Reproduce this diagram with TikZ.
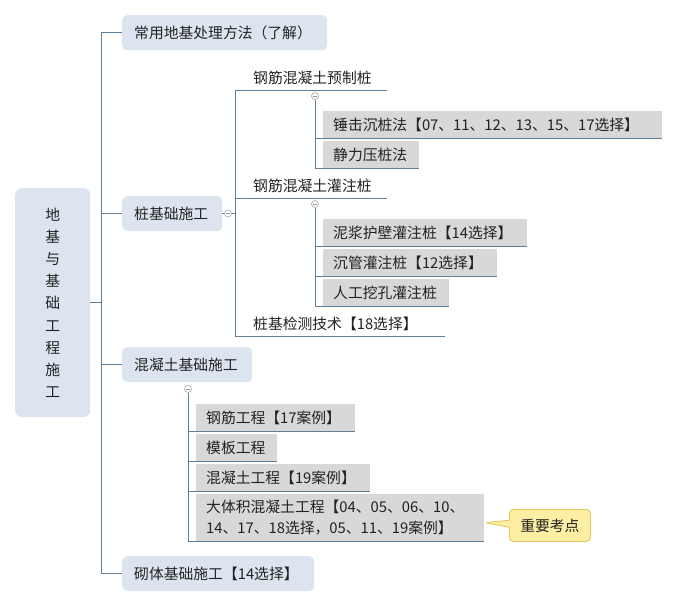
\documentclass[tikz,border=0pt]{standalone}
\usepackage{fontspec}
\newfontfamily\cjk{Noto Sans CJK SC}
\usetikzlibrary{shapes.callouts}
\definecolor{lineblue}{HTML}{5E7F9A}
\definecolor{boxblue}{HTML}{DCE5EF}
\definecolor{boxgray}{HTML}{D9D8D6}
\definecolor{txt}{HTML}{222222}
\definecolor{calloutfill}{HTML}{FCEFA3}
\definecolor{calloutdraw}{HTML}{E3C55C}
\begin{document}
\begin{tikzpicture}[x=1pt,y=-1pt,
  font=\cjk\fontsize{14.8}{18}\selectfont,
  every node/.style={text=txt},
  conn/.style={draw=lineblue, line width=1pt},
  topbox/.style={fill=boxblue, rounded corners=5pt, anchor=north west, inner xsep=12pt, minimum height=35pt, align=left},
  graybox/.style={fill=boxgray, anchor=north west, inner xsep=10pt, minimum height=27pt, align=left},
  plainitem/.style={anchor=south west, inner xsep=0pt, inner ysep=5pt},
  fold/.style={circle, draw=gray!70, fill=white, inner sep=0pt, minimum size=7pt, line width=0.6pt,
    path picture={\draw[gray!80, line width=0.6pt] ([xshift=-2pt]path picture bounding box.center) -- ([xshift=2pt]path picture bounding box.center);}}
]
\useasboundingbox (0,0) rectangle (679,608);

% root
\node[fill=boxblue, rounded corners=7pt, anchor=north west, minimum width=75pt, minimum height=229pt,
      align=center, font=\cjk\fontsize{14.8}{22.1}\selectfont] (root) at (15,188)
  {地\\基\\与\\基\\础\\工\\程\\施\\工};

% level 1
\node[topbox, text width=181pt] (t1) at (122,15) {常用地基处理方法（了解）};
\node[topbox, text width=76pt] (t2) at (122,196) {桩基础施工};
\node[topbox, text width=106pt] (t3) at (122,347) {混凝土基础施工};
\node[topbox, text width=168pt] (t4) at (122,556) {砌体基础施工【14选择】};

\coordinate (s1) at ([xshift=11pt]root.east);
\draw[conn] (root.east) -- (s1);
\foreach \n in {t1,t2,t3,t4} \draw[conn] (s1) |- (\n.west);

% level 2 under 桩基础施工
\coordinate (x2) at (235.5,0);
\coordinate (s2) at (t2.east -| x2);
\node[plainitem] (c1) at (253,90) {钢筋混凝土预制桩};
\node[plainitem] (c2) at (253,198) {钢筋混凝土灌注桩};
\node[plainitem] (c3) at (253,336) {桩基检测技术【18选择】};
\draw[conn] (t2.east) -- (s2);
\foreach \n in {c1,c2} \draw[conn] (s2) |- ([xshift=15pt]\n.south east);
\draw[conn] (s2) |- ([xshift=27pt]c3.south east);
\node[fold] (f2) at (228,213.5) {};

% level 3 under 预制桩
\node[graybox, text width=319pt] (g1) at (323,111) {锤击沉桩法【07、11、12、13、15、17选择】};
\node[graybox, text width=76pt] (g2) at (323,141) {静力压桩法};
\node[fold] (f3a) at (315,96) {};
\foreach \n in {g1,g2} \draw[conn] (f3a.south) |- (\n.south east);

% level 3 under 灌注桩
\node[graybox, text width=184pt] (g3) at (323,219) {泥浆护壁灌注桩【14选择】};
\node[graybox, text width=154pt] (g4) at (323,249) {沉管灌注桩【12选择】};
\node[graybox, text width=106pt] (g5) at (323,279) {人工挖孔灌注桩};
\node[fold] (f3b) at (315,204) {};
\foreach \n in {g3,g4,g5} \draw[conn] (f3b.south) |- (\n.south east);

% level 2 under 混凝土基础施工
\node[graybox, text width=139pt] (h1) at (196,404) {钢筋工程【17案例】};
\node[graybox, text width=61pt] (h2) at (196,434) {模板工程};
\node[graybox, text width=154pt] (h3) at (196,464) {混凝土工程【19案例】};
\node[graybox, text width=268pt, minimum height=47pt, font=\cjk\fontsize{14.8}{21}\selectfont] (h4) at (196,494)
  {大体积混凝土工程【04、05、06、10、\\14、17、18选择，05、11、19案例】};
\node[fold] (f4) at (188,389) {};
\foreach \n in {h1,h2,h3,h4} \draw[conn] (f4.south) |- (\n.south east);

% callout
\coordinate (tip) at ([yshift=-5pt]h4.east);
\node[rectangle callout, callout absolute pointer={(tip)}, fill=calloutfill, draw=calloutdraw, line width=0.8pt,
      rounded corners=4pt, anchor=north west, minimum width=81pt, minimum height=32pt] (k) at (509,509) {重要考点};
\end{tikzpicture}
\end{document}
